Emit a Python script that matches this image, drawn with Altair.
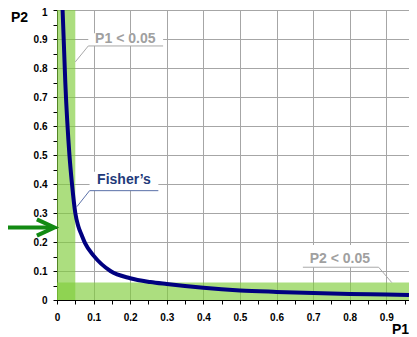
import altair as alt
import pandas as pd

# Curve
curve_p1 = [0.0153, 0.0227, 0.034, 0.041, 0.05, 0.058, 0.067, 0.077, 0.1, 0.146, 0.2, 0.255, 0.3, 0.4, 0.5, 0.6, 0.7, 0.8, 0.9, 0.962]
curve_p2 = [1.0, 0.75, 0.5, 0.4, 0.3, 0.255, 0.225, 0.195, 0.153, 0.1, 0.075, 0.062, 0.055, 0.042, 0.033, 0.028, 0.024, 0.021, 0.019, 0.0175]

# Significance bands (P1 < 0.05, P2 < 0.05)
band_x1 = [0, 0]
band_x2 = [0.05, 0.962]
band_y1 = [0, 0]
band_y2 = [1.0, 0.06]

# Tick values
x_ticks = [0, 0.05, 0.1, 0.15, 0.2, 0.25, 0.3, 0.35, 0.4, 0.45, 0.5, 0.55, 0.6, 0.65, 0.7, 0.75, 0.8, 0.85, 0.9, 0.95]
y_ticks = [0, 0.05, 0.1, 0.15, 0.2, 0.25, 0.3, 0.35, 0.4, 0.45, 0.5, 0.55, 0.6, 0.65, 0.7, 0.75, 0.8, 0.85, 0.9, 0.95, 1.0]

# Callouts
call_text = ["P1 < 0.05", "Fisher\u2019s", "P2 < 0.05"]
call_tx = [0.1866, 0.183, 0.773]
call_ty = [0.9, 0.414, 0.141]
call_bx1 = [0.0855, 0.089, 0.672]
call_bx2 = [0.29, 0.277, 0.879]
call_by1 = [0.876, 0.377, 0.113]
call_by2 = [0.92, 0.442, 0.19]
lead_x = [0.0855, 0.089, 0.879]
lead_y = [0.876, 0.377, 0.113]
lead_x2 = [0.05, 0.0546, 0.915]
lead_y2 = [0.821, 0.322, 0.060]
call_color = ["#a0a0a0", "#1f3a7a", "#a0a0a0"]
line_color = ["#a8a8a8", "#5a70a8", "#a8a8a8"]

# Arrow
arrow_shaft_x = [-0.14]
arrow_shaft_x2 = [-0.01]
arrow_shaft_y = [0.25]
arrow_head_x = [-0.055, -0.007, -0.055]
arrow_head_y = [0.278, 0.25, 0.222]

FONT = "Liberation Sans"
is_major = "abs(datum.value*10 - round(datum.value*10)) < 0.001"

def X(field, **kw):
    return alt.X(field, type="quantitative",
                 scale=alt.Scale(domain=[0, 0.962], nice=False, zero=False),
                 axis=alt.Axis(values=x_ticks, title="P1",
                               labelExpr=f"({is_major}) ? format(datum.value, '~g') : ''",
                               labelFlush=False, labelOverlap=False,
                               grid=True, gridColor="#a6a6a6", gridWidth=1,
                               gridOpacity={"condition": {"test": is_major, "value": 1}, "value": 0},
                               domainColor="black", tickColor="black", tickSize=4,
                               labelPadding=8, labelFont=FONT, labelFontWeight="bold",
                               labelFontSize=10, labelColor="black",
                               titleFont=FONT, titleFontWeight="bold", titleFontSize=14,
                               titleColor="black", titleX=343, titleY=29,
                               titleAlign="center", titleBaseline="middle"), **kw)

def Y(field, **kw):
    return alt.Y(field, type="quantitative",
                 scale=alt.Scale(domain=[0, 1], nice=False, zero=False),
                 axis=alt.Axis(values=y_ticks, title="P2",
                               labelExpr=f"({is_major}) ? format(datum.value, '~g') : ''",
                               labelOverlap=False,
                               labelOffset={"condition": {"test": "datum.value > 0.99", "value": 2}, "value": 0},
                               grid=True, gridColor="#a6a6a6", gridWidth=1,
                               gridOpacity={"condition": {"test": is_major, "value": 1}, "value": 0},
                               domainColor="black", tickColor="black", tickSize=4,
                               labelPadding=6, labelFont=FONT, labelFontWeight="bold",
                               labelFontSize=10, labelColor="black",
                               titleFont=FONT, titleFontWeight="bold", titleFontSize=14,
                               titleColor="black", titleAngle=0, titleX=-38, titleY=7,
                               titleAlign="center", titleBaseline="middle"), **kw)

bands = pd.DataFrame({"x": band_x1, "x2": band_x2, "y": band_y1, "y2": band_y2})
curve = pd.DataFrame({"x": curve_p1, "y": curve_p2})
calls = pd.DataFrame({"t": call_text, "x": call_tx, "y": call_ty,
                      "bx1": call_bx1, "bx2": call_bx2, "by1": call_by1, "by2": call_by2,
                      "lx": lead_x, "ly": lead_y, "lx2": lead_x2, "ly2": lead_y2,
                      "c": call_color, "lc": line_color})
shaft = pd.DataFrame({"x": arrow_shaft_x, "x2": arrow_shaft_x2, "y": arrow_shaft_y})
head = pd.DataFrame({"x": arrow_head_x, "y": arrow_head_y, "o": [0, 1, 2]})

band_layer = alt.Chart(bands).mark_rect(color="#7fcc3a", opacity=0.65).encode(
    x=X("x"), x2="x2", y=Y("y"), y2="y2")

boxes = alt.Chart(calls).mark_rect(color="white").encode(
    x=X("bx1"), x2="bx2", y=Y("by1"), y2="by2")

underline = alt.Chart(calls).mark_rule(strokeWidth=1).encode(
    x=X("bx1"), x2="bx2", y=Y("by1"), color=alt.Color("lc:N", scale=None))

leaders = alt.Chart(calls).mark_rule(strokeWidth=1).encode(
    x=X("lx"), x2="lx2", y=Y("ly"), y2="ly2", color=alt.Color("lc:N", scale=None))

texts = alt.Chart(calls).mark_text(font=FONT, fontWeight="bold", fontSize=14,
                                   align="center", baseline="middle").encode(
    x=X("x"), y=Y("y"), text="t:N", color=alt.Color("c:N", scale=None))

line = alt.Chart(curve).mark_line(color="#000080", strokeWidth=4, interpolate="monotone").encode(
    x=X("x"), y=Y("y"))

shaft_layer = alt.Chart(shaft).mark_rule(color="#128a12", strokeWidth=4).encode(
    x=X("x"), x2="x2", y=Y("y"))

head_layer = alt.Chart(head).mark_line(color="#128a12", strokeWidth=4, strokeJoin="miter").encode(
    x=X("x"), y=Y("y"), order="o:Q")

chart = alt.layer(band_layer, boxes, underline, leaders, texts, line, shaft_layer, head_layer).properties(
    width=352, height=290,
    autosize=alt.AutoSizeParams(type="none"),
    padding={"left": 49, "top": 2, "right": 0, "bottom": 37},
).configure_view(strokeWidth=0).configure(background="white")

chart.save("out.html", embed_options={"renderer": "svg", "actions": False})
